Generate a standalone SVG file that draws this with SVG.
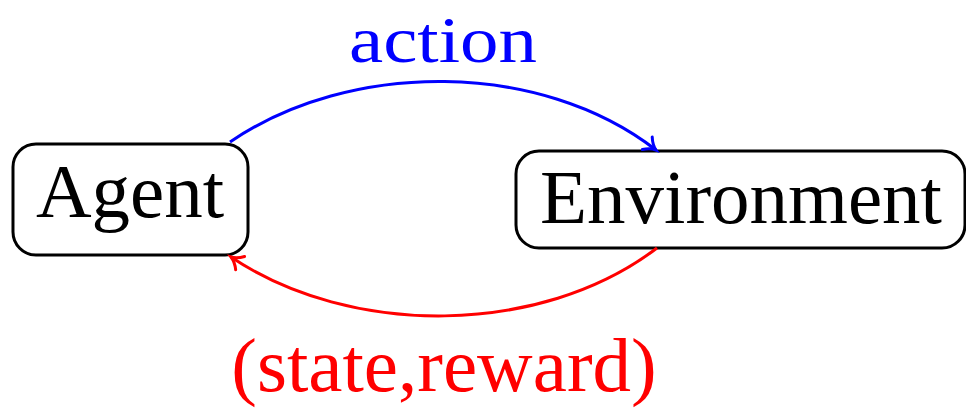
<svg xmlns="http://www.w3.org/2000/svg" width="966" height="410" viewBox="0 0 966 410">
<style>
.node{fill:#fff;stroke:#000;stroke-width:3}
.lbl{font-family:'Liberation Serif','Times New Roman','DejaVu Serif',serif;font-size:77px;text-anchor:middle}
.lbl.top{font-size:66px}
.edge{fill:none;stroke-width:3}
</style>
<defs>
<marker id="ab" markerUnits="userSpaceOnUse" markerWidth="20" markerHeight="20" refX="14" refY="10" orient="auto" viewBox="0 0 20 20">
<path d="M3,2 Q8,8 14,10 Q8,12 3,18" fill="none" stroke="#0000ff" stroke-width="3" stroke-linecap="round"/>
</marker>
<marker id="ar" markerUnits="userSpaceOnUse" markerWidth="20" markerHeight="20" refX="14" refY="10" orient="auto" viewBox="0 0 20 20">
<path d="M3,2 Q8,8 14,10 Q8,12 3,18" fill="none" stroke="#ff0000" stroke-width="3" stroke-linecap="round"/>
</marker>
</defs>
<g id="agent">
<rect class="node" x="13" y="144" width="235" height="111" rx="23"/>
<text class="lbl" x="130" y="217">Agent</text>
</g>
<g id="environment">
<rect class="node" x="516" y="151" width="449" height="97" rx="23"/>
<text class="lbl" x="741" y="223">Environment</text>
</g>
<g id="connectors">
<path class="edge" stroke="#0000ff" d="M230,142 C350,60 540,60 656,150" marker-end="url(#ab)"/>
<text class="lbl top" x="443" y="62" textLength="188" lengthAdjust="spacingAndGlyphs" fill="#0000ff">action</text>
<path class="edge" stroke="#ff0000" d="M657,248 C540,337 350,337 231,257" marker-end="url(#ar)"/>
<text class="lbl" x="444" y="391" fill="#ff0000">(state,reward)</text>
</g>
</svg>
